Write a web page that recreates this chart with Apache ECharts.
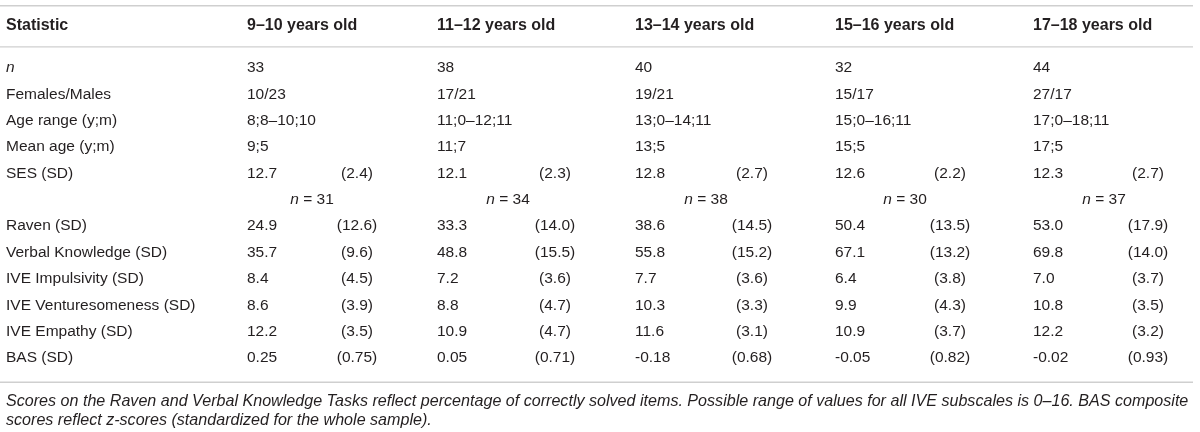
<!DOCTYPE html>
<html><head><meta charset="utf-8">
<script src="https://cdn.jsdelivr.net/npm/echarts@6/dist/echarts.min.js"></script>
<style>html,body{margin:0;padding:0;background:#fff}#c{width:1200px;height:432px}</style>
</head><body><div id="c"></div>
<script>
// ---- data ----
const groups = ["9–10 years old", "11–12 years old", "13–14 years old", "15–16 years old", "17–18 years old"];
const headerLabel = "Statistic";
const nTotal = [33, 38, 40, 32, 44];
const femalesMales = ["10/23", "17/21", "19/21", "15/17", "27/17"];
const ageRange = ["8;8–10;10", "11;0–12;11", "13;0–14;11", "15;0–16;11", "17;0–18;11"];
const meanAge = ["9;5", "11;7", "13;5", "15;5", "17;5"];
const sesMean = [12.7, 12.1, 12.8, 12.6, 12.3];
const sesSD = [2.4, 2.3, 2.7, 2.2, 2.7];
const nSubsample = [31, 34, 38, 30, 37];
const ravenMean = [24.9, 33.3, 38.6, 50.4, 53.0];
const ravenSD = [12.6, 14.0, 14.5, 13.5, 17.9];
const verbalMean = [35.7, 48.8, 55.8, 67.1, 69.8];
const verbalSD = [9.6, 15.5, 15.2, 13.2, 14.0];
const impulsivityMean = [8.4, 7.2, 7.7, 6.4, 7.0];
const impulsivitySD = [4.5, 3.6, 3.6, 3.8, 3.7];
const venturesomenessMean = [8.6, 8.8, 10.3, 9.9, 10.8];
const venturesomenessSD = [3.9, 4.7, 3.3, 4.3, 3.5];
const empathyMean = [12.2, 10.9, 11.6, 10.9, 12.2];
const empathySD = [3.5, 4.7, 3.1, 3.7, 3.2];
const basMean = [0.25, 0.05, -0.18, -0.05, -0.02];
const basSD = [0.75, 0.71, 0.68, 0.82, 0.93];
const captionLines = [
  "Scores on the Raven and Verbal Knowledge Tasks reflect percentage of correctly solved items. Possible range of values for all IVE subscales is 0–16. BAS composite",
  "scores reflect z-scores (standardized for the whole sample)."
];

// ---- table structure ----
const f1 = v => v.toFixed(1);
const f2 = v => v.toFixed(2);
const rows = [
  { label: "{i|n}", kind: "single", vals: nTotal.map(String) },
  { label: "Females/Males", kind: "single", vals: femalesMales },
  { label: "Age range (y;m)", kind: "single", vals: ageRange },
  { label: "Mean age (y;m)", kind: "single", vals: meanAge },
  { label: "SES (SD)", kind: "pair", m: sesMean.map(f1), s: sesSD.map(f1) },
  { label: "", kind: "n", vals: nSubsample },
  { label: "Raven (SD)", kind: "pair", m: ravenMean.map(f1), s: ravenSD.map(f1) },
  { label: "Verbal Knowledge (SD)", kind: "pair", m: verbalMean.map(f1), s: verbalSD.map(f1) },
  { label: "IVE Impulsivity (SD)", kind: "pair", m: impulsivityMean.map(f1), s: impulsivitySD.map(f1) },
  { label: "IVE Venturesomeness (SD)", kind: "pair", m: venturesomenessMean.map(f1), s: venturesomenessSD.map(f1) },
  { label: "IVE Empathy (SD)", kind: "pair", m: empathyMean.map(f1), s: empathySD.map(f1) },
  { label: "BAS (SD)", kind: "pair", m: basMean.map(f2), s: basSD.map(f2) }
];

// layout (axis units: x in table units, y in row units)
const labelX = 6;
const meanX = [247, 437, 635, 835, 1033];
const sdX = [357, 555, 752, 950, 1148];
const nX = [312, 508, 706, 905, 1104];
const headerRow = -1.59;
const ruleRows = [-2.36, -0.80, 11.92];
const captionRows = [12.66, 13.38];
const ruleEnd = 1193;

const items = [];
items.push([labelX, headerRow, headerLabel, 'bold', 'left']);
groups.forEach((g, k) => items.push([meanX[k], headerRow, g, 'bold', 'left']));
rows.forEach((r, i) => {
  if (r.label) items.push([labelX, i, r.label, 'reg', 'left']);
  for (let k = 0; k < groups.length; k++) {
    if (r.kind === 'single') items.push([meanX[k], i, r.vals[k], 'reg', 'left']);
    else if (r.kind === 'pair') {
      items.push([meanX[k], i, r.m[k], 'reg', 'left']);
      items.push([sdX[k], i, '(' + r.s[k] + ')', 'reg', 'center']);
    } else if (r.kind === 'n') items.push([nX[k], i, '{i|n} = ' + r.vals[k], 'reg', 'center']);
  }
});
captionLines.forEach((t, j) => items.push([labelX, captionRows[j], t, 'cap', 'left']));

const FONT = "'Liberation Sans', Arial, sans-serif";
const COLOR = '#231f20';
const fonts = {
  bold: 'bold 16px ' + FONT,
  reg: '15.5px ' + FONT,
  cap: 'italic 16.1px ' + FONT
};

const chart = echarts.init(document.getElementById('c'), null, { renderer: 'canvas' });
chart.setOption({
  animation: false,
  backgroundColor: '#fff',
  grid: { left: 0, right: 0, top: 0, bottom: 0 },
  xAxis: { type: 'value', min: 0, max: 1200, show: false },
  yAxis: { type: 'value', min: -68 / 26.36, max: (432 - 68) / 26.36, inverse: true, show: false },
  series: [
    {
      type: 'custom',
      data: ruleRows.map(y => [0, y]),
      renderItem: (params, api) => {
        const a = api.coord([0, api.value(1)]);
        const b = api.coord([ruleEnd, api.value(1)]);
        return { type: 'line', shape: { x1: a[0], y1: a[1], x2: b[0], y2: b[1] }, style: { stroke: '#cfcfcf', lineWidth: 1.4 } };
      }
    },
    {
      type: 'custom',
      data: items,
      dimensions: ['x', 'y', 'text', 'font', 'align'],
      renderItem: (params, api) => {
        const it = items[params.dataIndex];
        const p = api.coord([it[0], it[1]]);
        return {
          type: 'text',
          x: p[0], y: p[1],
          style: {
            text: it[2],
            font: fonts[it[3]],
            fill: COLOR,
            align: it[4],
            verticalAlign: 'middle',
            rich: { i: { font: 'italic 15.5px ' + FONT, fill: COLOR } }
          }
        };
      }
    }
  ]
});
</script></body></html>
